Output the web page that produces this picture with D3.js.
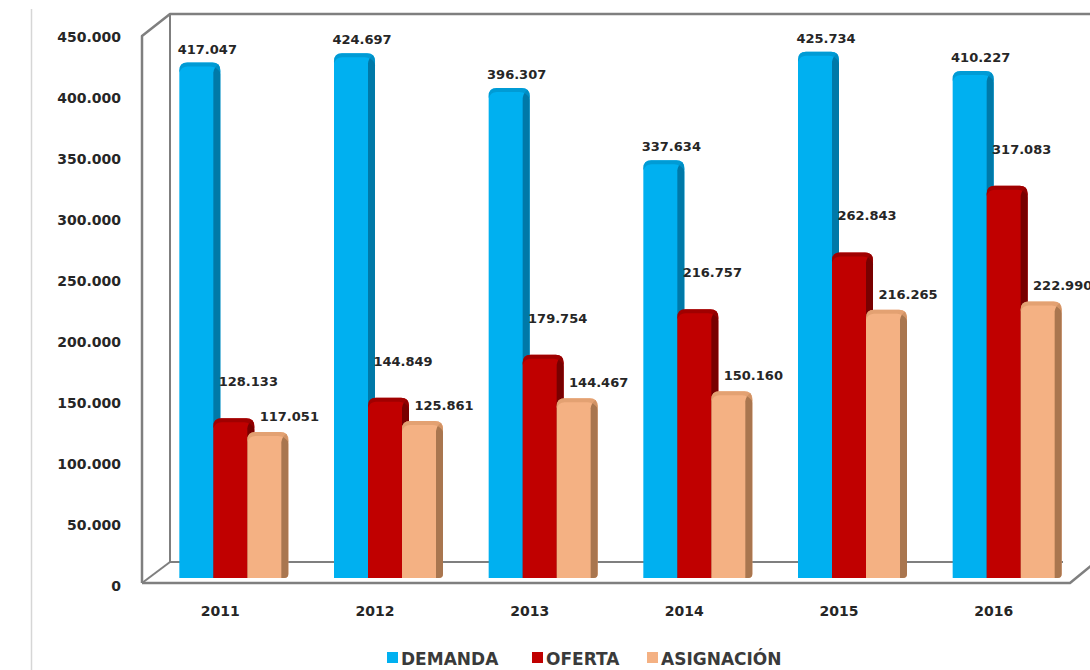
<!DOCTYPE html>
<html>
<head>
<meta charset="utf-8">
<script src="https://cdn.jsdelivr.net/npm/d3@7/dist/d3.min.js"></script>
<style>
  html, body { margin: 0; padding: 0; background: #fff; }
  svg { display: block; }
</style>
</head>
<body>
<svg id="chart" width="1090" height="670"></svg>
<script>
// Data
const years = ["2011", "2012", "2013", "2014", "2015", "2016"];
const seriesNames = ["DEMANDA", "OFERTA", "ASIGNACIÓN"];
const demanda = [417047, 424697, 396307, 337634, 425734, 410227];
const oferta = [128133, 144849, 179754, 216757, 262843, 317083];
const asignacion = [117051, 125861, 144467, 150160, 216265, 222990];
const yTicks = [0, 50000, 100000, 150000, 200000, 250000, 300000, 350000, 400000, 450000];

const seriesValues = [demanda, oferta, asignacion];
const colors = {
  DEMANDA:    { front: "#00B0F0", side: "#0079A8", cap: "#0094CC" },
  OFERTA:     { front: "#C00000", side: "#780000", cap: "#960000" },
  "ASIGNACIÓN": { front: "#F4B183", side: "#A9764F", cap: "#DE9C6C" }
};

const locale = d3.formatLocale({ decimal: ",", thousands: ".", grouping: [3], currency: ["", ""] });
const fmt = locale.format(",");

const svg = d3.select("#chart");

// Frame geometry (3D box: back wall and floor)
const backL = 170, frontL = 142, topBack = 14, topFront = 36;
const floorBack = 562, floorFront = 583, floorRight = 1070;

// Scales
const yAxisScale = d3.scaleLinear().domain([0, 450000]).range([586, 37]);
const yBar = d3.scaleLinear().domain([0, 450000]).range([578, 24]);
const x0 = d3.scaleBand().domain(years).range([153, 1081]);
const x1 = d3.scaleBand().domain(seriesNames).range([-51, 51]);

// faint page edge line
svg.append("line")
  .attr("x1", 31.5).attr("x2", 31.5).attr("y1", 9).attr("y2", 670)
  .attr("stroke", "#d6d6d6").attr("stroke-width", 1.5);

// Box outline
const frame = svg.append("g")
  .attr("fill", "none").attr("stroke", "#7f7f7f").attr("stroke-width", 2.5)
  .attr("stroke-linejoin", "round");
frame.append("path").attr("d",
  `M${frontL},${floorFront} L${frontL},${topFront} L${backL},${topBack} L1092,${topBack}`);
frame.append("path").attr("d",
  `M${backL},${topBack} L${backL},${floorBack} L1063,${floorBack}`).attr("stroke-width", 2);
frame.append("path").attr("d",
  `M${frontL},${floorFront} L${backL},${floorBack}`).attr("stroke-width", 2);
frame.append("path").attr("d",
  `M${frontL},${floorFront} L${floorRight},${floorFront} L1092,${floorFront - 18}`);

// Y axis tick labels
const yAxis = d3.axisLeft(yAxisScale).tickValues(yTicks).tickFormat(d => fmt(d)).tickSize(0).tickPadding(0);
const yG = svg.append("g").attr("transform", "translate(121,0)").call(yAxis);
yG.select(".domain").remove();
yG.selectAll("text")
  .attr("font-family", "DejaVu Sans").attr("font-weight", "bold")
  .attr("font-size", 14).attr("fill", "#262626");

// X axis category labels
const xAxis = d3.axisBottom(x0).tickSize(0).tickPadding(0);
const xG = svg.append("g").attr("transform", "translate(-10,606)").call(xAxis);
xG.select(".domain").remove();
xG.selectAll("text")
  .attr("font-family", "DejaVu Sans").attr("font-weight", "bold")
  .attr("font-size", 14).attr("fill", "#262626");

// Bars
const W = 34, D = 7, base = yBar(0);
function barPath(xl, top) {
  // rounded-top silhouette spanning front face plus side depth
  const r = 8, xr = xl + W + D, t = top - 2;
  return `M${xl},${base} L${xl},${t + r} Q${xl},${t} ${xl + r},${t} L${xr - r},${t} Q${xr},${t} ${xr},${t + r} L${xr},${base - 4} Q${xr},${base} ${xr - 4},${base} Z`;
}
function sidePath(xl, top) {
  const xs = xl + W, xr = xl + W + D, t = top + 4;
  return `M${xs},${base} L${xs},${t + 4} Q${xs + 1},${t - 2} ${xr - 2},${t - 4} Q${xr},${t} ${xr},${t + 6} L${xr},${base - 4} Q${xr},${base} ${xr - 4},${base} Z`;
}
function capPath(xl, top) {
  const r = 8, xr = xl + W + D, t = top - 2;
  return `M${xl},${t + r + 2} L${xl},${t + r} Q${xl},${t} ${xl + r},${t} L${xr - r},${t} Q${xr},${t} ${xr},${t + r} L${xr},${t + r + 2} Q${xr - 4},${t + 4} ${xr - r - 2},${t + 4} L${xl + r},${t + 4} Q${xl + 2},${t + 4} ${xl},${t + r + 2} Z`;
}

const barsData = [];
years.forEach((yr, i) => {
  seriesNames.forEach((s, j) => {
    barsData.push({ year: yr, series: s, value: seriesValues[j][i], j });
  });
});

const groups = svg.append("g").selectAll("g")
  .data(years).join("g")
  .attr("transform", d => `translate(${x0(d) + x0.bandwidth() / 2},0)`);

groups.each(function (yr) {
  const g = d3.select(this);
  const items = barsData.filter(b => b.year === yr);
  items.forEach(b => {
    const xl = x1(b.series);
    const top = yBar(b.value);
    const c = colors[b.series];
    const bg = g.append("g");
    bg.append("path").attr("d", barPath(xl, top)).attr("fill", c.front);
    bg.append("path").attr("d", sidePath(xl, top)).attr("fill", c.side);
    bg.append("path").attr("d", capPath(xl, top)).attr("fill", c.cap).attr("opacity", 0.75);
  });
});

// Value labels
const labelOffsets = {
  DEMANDA: { dx: 11, dy: -11 },
  OFERTA: { dx: 18, dy: -34 },
  "ASIGNACIÓN": { dx: 25, dy: -13 }
};
svg.append("g").selectAll("text")
  .data(barsData).join("text")
  .attr("x", d => x0(d.year) + x0.bandwidth() / 2 + x1(d.series) + W / 2 + labelOffsets[d.series].dx)
  .attr("y", d => yBar(d.value) + labelOffsets[d.series].dy)
  .attr("text-anchor", "middle")
  .attr("font-family", "DejaVu Sans").attr("font-weight", "bold")
  .attr("font-size", 13).attr("fill", "#262626")
  .text(d => fmt(d.value));

// Legend
const legendX = [387, 532, 647];
const legend = svg.append("g").selectAll("g")
  .data(seriesNames).join("g")
  .attr("transform", (d, i) => `translate(${legendX[i]},652)`);
legend.append("rect")
  .attr("x", 0).attr("y", 0).attr("width", 11).attr("height", 11)
  .attr("fill", d => colors[d].front);
legend.append("text")
  .attr("x", 14).attr("y", 12.5)
  .attr("font-family", "DejaVu Sans").attr("font-weight", "bold").attr("font-size", 17)
  .attr("fill", "#3a3a3a").text(d => d);
</script>
</body>
</html>
